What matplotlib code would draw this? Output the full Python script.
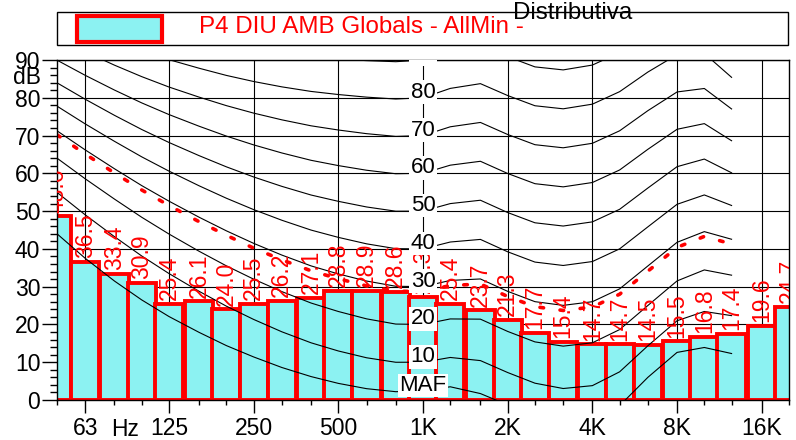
import matplotlib
matplotlib.use('Agg')
import matplotlib.pyplot as plt
from matplotlib.patches import Rectangle
from matplotlib.ticker import FixedLocator, NullFormatter, FixedFormatter

plt.rcParams['font.family'] = ['Liberation Sans', 'DejaVu Sans']

# ---------------- data ----------------
band_freqs = [50, 63, 80, 100, 125, 160, 200, 250, 315, 400, 500, 630, 800, 1000,
              1250, 1600, 2000, 2500, 3150, 4000, 5000, 6300, 8000, 10000, 12500,
              16000, 20000]
band_levels = [48.6, 36.5, 33.4, 30.9, 25.4, 26.1, 24.0, 25.5, 26.2, 27.1, 28.8,
               28.9, 28.6, 27.3, 25.4, 23.7, 21.3, 17.7, 15.4, 14.7, 14.7, 14.5,
               15.5, 16.8, 17.4, 19.6, 24.7]

contour_freqs = [50, 63, 80, 100, 125, 160, 200, 250, 315, 400, 500, 630, 800, 1000,
                 1250, 1600, 2000, 2500, 3150, 4000, 5000, 6300, 8000, 10000, 12500]
maf = [44.0, 37.5, 31.5, 26.5, 22.1, 17.9, 14.4, 11.4, 8.6, 6.2, 4.4, 3.0, 2.2, 2.4,
       3.5, 1.7, -1.3, -4.2, -6.0, -5.4, -1.5, 6.0, 12.6, 13.9, 12.3]
phon10 = [54.96, 49.01, 43.24, 38.13, 33.48, 28.77, 24.84, 21.33, 18.05, 15.14, 12.98,
          11.18, 9.99, 10.0, 11.26, 10.43, 7.27, 4.45, 3.04, 3.80, 7.46, 14.35, 20.98,
          23.43, 22.33]
phon20 = [64.02, 58.55, 53.19, 48.38, 43.94, 39.37, 35.51, 31.99, 28.69, 25.67, 23.43,
          21.48, 20.10, 20.0, 21.46, 21.40, 18.15, 15.38, 14.26, 15.14, 18.64, 25.02,
          31.52, 34.43, 33.04]
phon30 = [71.26, 66.20, 61.22, 56.76, 52.64, 48.38, 44.78, 41.47, 38.36, 35.50, 33.37,
          31.49, 30.11, 30.0, 31.65, 32.04, 28.76, 26.03, 25.05, 26.02, 29.42, 35.48,
          41.74, 44.57, 42.55]
phon40 = [77.79, 73.08, 68.48, 64.37, 60.59, 56.70, 53.41, 50.40, 47.58, 44.98, 43.05,
          41.34, 40.06, 40.0, 41.82, 42.51, 39.23, 36.51, 35.61, 36.65, 40.01, 45.83,
          51.80, 54.28, 51.49]
phon50 = [83.96, 79.61, 75.36, 71.61, 68.17, 64.68, 61.72, 59.04, 56.55, 54.26, 52.59,
          51.10, 49.98, 50.0, 51.99, 52.88, 49.62, 46.91, 46.05, 47.15, 50.48, 56.11,
          61.76, 63.78, 60.14]
phon60 = [89.96, 85.94, 82.05, 78.65, 75.56, 72.47, 69.86, 67.53, 65.39, 63.45, 62.05,
          60.82, 59.89, 60.0, 62.16, 63.19, 59.96, 57.26, 56.42, 57.57, 60.89, 66.36,
          71.66, 73.16, 68.63]
phon70 = [95.87, 92.18, 88.64, 85.60, 82.85, 80.17, 77.92, 75.94, 74.16, 72.58, 71.47,
          70.50, 69.78, 70.0, 72.32, 73.47, 70.28, 67.58, 66.76, 67.95, 71.26, 76.59,
          81.54, 82.46, 77.04]
phon80 = [101.72, 98.36, 95.17, 92.48, 90.09, 87.82, 85.92, 84.31, 82.89, 81.68, 80.86,
          80.17, 79.67, 80.0, 82.48, 83.74, 80.59, 77.89, 77.08, 78.31, 81.62, 86.81,
          91.41, 91.74, 85.41]
phon90 = [107.55, 104.51, 101.67, 99.33, 97.29, 95.43, 93.89, 92.65, 91.60, 90.76, 90.24,
          89.84, 89.55, 90.0, 92.65, 94.00, 90.88, 88.18, 87.38, 88.66, 91.96, 97.02,
          101.26, 100.99, 93.75]
loudness_curve = [70.2, 65.1, 60.1, 55.6, 51.5, 47.2, 43.6, 40.2, 37.1, 34.2, 32.1, 30.2,
                  28.8, 28.7, 30.3, 30.7, 27.4, 24.7, 23.7, 24.6, 28.0, 34.1, 40.4,
                  43.3, 41.3]

contour_label_text = ['MAF', '10', '20', '30', '40', '50', '60', '70', '80', '90']
contour_label_level = [2.4, 10, 20, 30, 40, 50, 60, 70, 80, 90]
contour_label_freq = 1000

x_major_ticks = [63, 125, 250, 500, 1000, 2000, 4000, 8000, 16000]
x_major_labels = ['63', '125', '250', '500', '1K', '2K', '4K', '8K', '16K']
y_major_ticks = [0, 10, 20, 30, 40, 50, 60, 70, 80, 90]
y_minor_ticks = list(range(0, 91, 2))

legend_label = 'P4 DIU AMB Globals - AllMin -'
title_text = 'Distributiva'

# ---------------- styles ----------------
BAR_FILL = '#8cf2f2'
RED = '#ff0000'
W, H = 796, 440
NUM_FS = 16.5

fig = plt.figure(figsize=(W / 100, H / 100), dpi=100)
ax = fig.add_axes([57 / W, 40 / H, 732 / W, 340 / H])
ax.set_xscale('log')
ax.set_xlim(50, 20000)
ax.set_ylim(0, 90)

# bars (1/3 octave bands)
lefts = [f * 2 ** (-1 / 6) for f in band_freqs]
widths = [f * (2 ** (1 / 6) - 2 ** (-1 / 6)) for f in band_freqs]
ax.bar(lefts, band_levels, width=widths, align='edge', color=BAR_FILL,
       edgecolor=RED, linewidth=2.8, zorder=1)

# equal loudness contours
for curve in [maf, phon10, phon20, phon30, phon40, phon50, phon60, phon70, phon80, phon90]:
    ax.plot(contour_freqs, curve, color='black', lw=0.8, zorder=2)

# red dashed loudness curve
ax.plot(contour_freqs, loudness_curve, color=RED, lw=2.6, linestyle=(0, (1.0, 4.6)),
        dash_capstyle='round', zorder=2.2)

# bar value labels
for f, v in zip(band_freqs, band_levels):
    ax.text(f, v + 1.0, f'{v:.1f}', rotation=90, rotation_mode='anchor',
            ha='left', va='center', color=RED, fontsize=NUM_FS, zorder=3, clip_on=True)

# contour labels
for t, lv in zip(contour_label_text, contour_label_level):
    ax.text(contour_label_freq, lv, t, ha='center', va='baseline', fontsize=16,
            color='black', zorder=5, clip_on=True,
            bbox=dict(boxstyle='square,pad=0.06', fc='white', ec='none'))

# grid and ticks
ax.set_axisbelow(True)
ax.xaxis.set_major_locator(FixedLocator(x_major_ticks))
ax.xaxis.set_major_formatter(FixedFormatter(x_major_labels))
ax.xaxis.set_minor_locator(FixedLocator(band_freqs))
ax.xaxis.set_minor_formatter(NullFormatter())
ax.yaxis.set_major_locator(FixedLocator(y_major_ticks))
ax.yaxis.set_minor_locator(FixedLocator(y_minor_ticks))
ax.grid(True, which='major', color='black', lw=0.8)

ax.tick_params(axis='y', which='major', length=11, width=1, pad=1, labelsize=NUM_FS)
ax.tick_params(axis='y', which='minor', length=5, width=1)
ax.tick_params(axis='x', which='major', length=9.5, width=1, pad=3, labelsize=NUM_FS)
ax.tick_params(axis='x', which='minor', length=3.6, width=1)
for s in ax.spines.values():
    s.set_linewidth(1)
    s.set_color('black')

ax.text(-16 / 732, 85.3, 'dB', transform=ax.get_yaxis_transform(), ha='right',
        va='center', fontsize=NUM_FS)
ax.text(87, -18 / 340, 'Hz', transform=ax.get_xaxis_transform(), ha='center',
        va='top', fontsize=NUM_FS)

# legend (drawn manually)
fig.add_artist(Rectangle((57 / W, 1 - 45 / H), 731 / W, 33 / H, transform=fig.transFigure,
                         fill=False, ec='black', lw=1))
fig.add_artist(Rectangle((77 / W, 1 - 42 / H), 85 / W, 26 / H, transform=fig.transFigure,
                         fc=BAR_FILL, ec=RED, lw=3))
fig.text(199 / W, 1 - 33.3 / H, legend_label, color=RED, fontsize=17.4,
         ha='left', va='baseline')
fig.text(573 / W, 1 - 19.3 / H, title_text, color='black', fontsize=17.4,
         ha='center', va='baseline')

fig.savefig('out.png', dpi=100)
